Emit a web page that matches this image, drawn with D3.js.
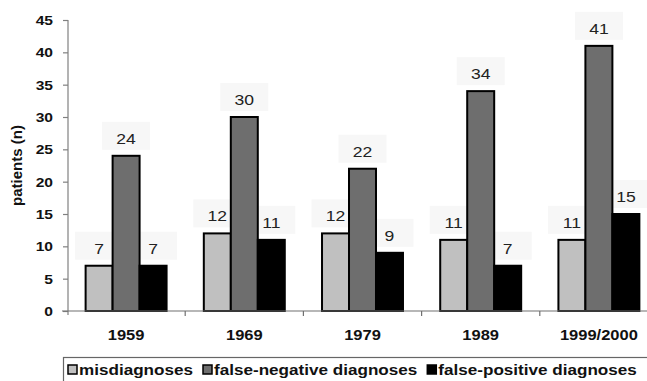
<!DOCTYPE html>
<html>
<head>
<meta charset="utf-8">
<script src="https://cdn.jsdelivr.net/npm/d3@7"></script>
<style>
  html, body { margin: 0; padding: 0; background: #fff; }
  svg { display: block; font-family: "Liberation Sans", Arial, sans-serif; }
</style>
</head>
<body>
<svg id="chart" width="647" height="381"></svg>
<script>
// Diagnosis counts per autopsy year
const years = ["1959", "1969", "1979", "1989", "1999/2000"];
const seriesNames = ["misdiagnoses", "false-negative diagnoses", "false-positive diagnoses"];
const misdiagnoses = [7, 12, 12, 11, 11];
const falseNegative = [24, 30, 22, 34, 41];
const falsePositive = [7, 11, 9, 7, 15];
const yTicks = [0, 5, 10, 15, 20, 25, 30, 35, 40, 45];
const seriesColors = ["#c0c0c0", "#6e6e6e", "#000000"];

const seriesValues = [misdiagnoses, falseNegative, falsePositive];
const rows = years.map((yr, i) => ({
  year: yr,
  values: seriesNames.map((name, s) => ({ name, s, value: seriesValues[s][i] }))
}));

const svg = d3.select("#chart");
const plotLeft = 68, plotRight = 658, plotTop = 20, plotBottom = 311;
const sx = 1.17; // horizontal text stretch

const y = d3.scaleLinear().domain([0, 45]).range([plotBottom, plotTop]);
const x0 = d3.scaleBand().domain(years).range([plotLeft - 1, plotRight])
  .paddingInner(0.315).paddingOuter(0.1575);
const x1 = d3.scaleBand().domain(seriesNames).range([0, x0.bandwidth()]).padding(0);

function stretchText(sel, px, py, k) {
  sel.attr("transform", `translate(${px},${py}) scale(${k},1)`);
}

const groups = svg.selectAll(".grp").data(rows).join("g").attr("class", "grp")
  .attr("transform", d => `translate(${x0(d.year)},0)`);

// faint label backgrounds, behind everything
groups.selectAll(".lblbg").data(d => d.values).join("rect").attr("class", "lblbg")
  .attr("x", d => x1(d.name) + x1.bandwidth() / 2 - 24)
  .attr("y", d => y(d.value) - 34)
  .attr("width", 48).attr("height", 28)
  .attr("fill", "#f7f7f7");

// y axis
const yAxisG = svg.append("g").attr("transform", `translate(${plotLeft},0)`)
  .call(d3.axisLeft(y).tickValues(yTicks).tickSize(5).tickPadding(0).tickFormat(d3.format("d")));
yAxisG.select(".domain").attr("d", `M0,${plotTop}V${plotBottom + 4}`).attr("stroke", "#808080").attr("stroke-width", 1.2);
yAxisG.selectAll(".tick line").attr("stroke", "#808080").attr("stroke-width", 1.2);
yAxisG.selectAll(".tick text").each(function(d) {
  const t = d3.select(this);
  t.attr("x", null).attr("dy", null).attr("text-anchor", "end")
    .attr("font-size", 13).attr("font-weight", "bold").attr("fill", "#111")
    .attr("font-family", "Liberation Sans, Arial, sans-serif");
  stretchText(t, -15, 4.5, 1.2);
});

// x axis line and category separators
const sepX = d3.range(years.length + 1).map(i => x0.range()[0] + i * x0.step());
svg.append("line").attr("x1", plotLeft - 6).attr("x2", 647).attr("y1", plotBottom).attr("y2", plotBottom)
  .attr("stroke", "#707070").attr("stroke-width", 1.2);
svg.selectAll(".sep").data(sepX.slice(1)).join("line").attr("class", "sep")
  .attr("x1", d => d).attr("x2", d => d).attr("y1", plotBottom).attr("y2", plotBottom + 5)
  .attr("stroke", "#707070").attr("stroke-width", 1.2);

// bars
groups.selectAll(".bar").data(d => d.values).join("rect").attr("class", "bar")
  .attr("x", d => x1(d.name))
  .attr("y", d => y(d.value))
  .attr("width", x1.bandwidth())
  .attr("height", d => y(0) - y(d.value))
  .attr("fill", d => seriesColors[d.s])
  .attr("stroke", "#000").attr("stroke-width", 2);

// value labels
groups.selectAll(".lbl").data(d => d.values).join("text").attr("class", "lbl")
  .attr("text-anchor", "middle").attr("font-size", 15).attr("fill", "#222")
  .text(d => d.value)
  .each(function(d) {
    stretchText(d3.select(this), x1(d.name) + x1.bandwidth() / 2, y(d.value) - 12, sx);
  });

// category labels
svg.selectAll(".cat").data(years).join("text").attr("class", "cat")
  .attr("text-anchor", "middle").attr("font-size", 15).attr("font-weight", "bold").attr("fill", "#111")
  .text(d => d)
  .each(function(d) {
    stretchText(d3.select(this), x0(d) + x0.bandwidth() / 2, 340, 1.1);
  });

// y axis title
svg.append("text").attr("text-anchor", "middle").attr("font-size", 15).attr("font-weight", "bold")
  .attr("fill", "#111")
  .attr("transform", `translate(22,${(plotTop + plotBottom) / 2}) rotate(-90)`)
  .text("patients (n)");

// legend
svg.append("rect").attr("x", 63.5).attr("y", 357.5).attr("width", 600).attr("height", 40)
  .attr("fill", "none").attr("stroke", "#666").attr("stroke-width", 1.2);
const legendStretch = 1.14;
let lx = 68;
seriesNames.forEach((name, s) => {
  svg.append("rect").attr("x", lx).attr("y", 365).attr("width", 9).attr("height", 9)
    .attr("fill", seriesColors[s]).attr("stroke", "#000").attr("stroke-width", 1.5);
  const t = svg.append("text").attr("font-size", 15).attr("font-weight", "bold").attr("fill", "#111").text(name);
  stretchText(t, lx + 11, 375, legendStretch);
  const w = t.node().getComputedTextLength() * legendStretch;
  lx = lx + 11 + w + 10;
});
</script>
</body>
</html>
